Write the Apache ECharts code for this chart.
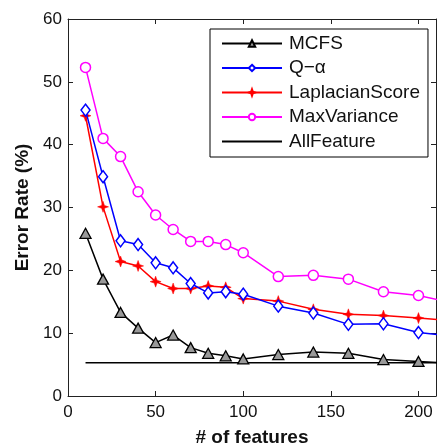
<!DOCTYPE html>
<html>
<head>
<meta charset="utf-8">
<script src="https://cdn.jsdelivr.net/npm/echarts@6/dist/echarts.min.js"></script>
<style>
  html, body { margin: 0; padding: 0; background: #fff; }
  #chart { width: 437px; height: 445px; }
</style>
</head>
<body>
<div id="chart"></div>
<script>
// Number of selected features (x) and error rate in percent (y) per method
const features = [10, 20, 30, 40, 50, 60, 70, 80, 90, 100, 120, 140, 160, 180, 200, 220];
const mcfs = [25.9, 18.6, 13.3, 10.8, 8.5, 9.7, 7.7, 6.8, 6.4, 5.9, 6.6, 7.0, 6.8, 5.8, 5.5, 5.2];
const qAlpha = [45.5, 34.9, 24.7, 24.1, 21.2, 20.4, 17.9, 16.4, 16.6, 16.2, 14.3, 13.2, 11.4, 11.5, 10.1, 9.5];
const laplacian = [44.6, 30.1, 21.4, 20.7, 18.2, 17.1, 17.1, 17.5, 17.3, 15.5, 15.1, 13.8, 13.0, 12.8, 12.4, 12.0];
const maxVariance = [52.3, 41.0, 38.1, 32.5, 28.8, 26.5, 24.6, 24.6, 24.1, 22.8, 19.0, 19.2, 18.6, 16.6, 16.0, 14.8];
const allFeatureX = [10, 220];
const allFeature = [5.3, 5.3];

const xTicks = [0, 50, 100, 150, 200];
const yTicks = [0, 10, 20, 30, 40, 50, 60];

const pairs = (xs, ys) => xs.map((x, i) => [x, ys[i]]);

const FONT = '"Liberation Sans", Arial, sans-serif';
const starPath = 'path://M0,-10 L2.6,-2.6 L10,0 L2.6,2.6 L0,10 L-2.6,2.6 L-10,0 L-2.6,-2.6 Z';

const chart = echarts.init(document.getElementById('chart'), null, { renderer: 'canvas' });

// box edges stay on their own side instead of snapping to the zero line
const axisLine = { show: true, onZero: false, lineStyle: { color: '#222', width: 1 } };
const tickIn = { show: true, inside: true, length: 5, lineStyle: { color: '#222', width: 1 } };
const noLabel = { show: false };
const noSplit = { show: false };

chart.setOption({
  animation: false,
  backgroundColor: '#fff',
  grid: { left: 68, right: 1, top: 19, bottom: 49, containLabel: false, outerBoundsMode: 'none' },
  legend: {
    orient: 'vertical',
    left: 210,
    top: 29,
    padding: [5, 8, 6, 11],
    itemWidth: 60,
    itemHeight: 8,
    itemGap: 5.5,
    borderColor: '#000',
    borderWidth: 1,
    backgroundColor: '#fff',
    textStyle: { fontFamily: FONT, fontSize: 19, color: '#111', padding: [0, 0, 0, 2] },
    data: [
      'MCFS', 'Q\u2212\u03b1', 'LaplacianScore', 'MaxVariance',
      { name: 'AllFeature', itemStyle: { color: 'rgba(0,0,0,0)', borderWidth: 0, opacity: 0 } }
    ]
  },
  xAxis: [
    {
      type: 'value', min: 0, max: 210, interval: 50, position: 'bottom',
      name: '# of features', nameLocation: 'middle', nameGap: 32,
      nameTextStyle: { fontFamily: FONT, fontSize: 19, fontWeight: 'bold', color: '#111' },
      axisLine, axisTick: tickIn,
      axisLabel: {
        fontFamily: FONT, fontSize: 17, color: '#111', margin: 8,
        formatter: v => (xTicks.includes(v) ? String(v) : '')
      },
      splitLine: noSplit
    },
    { type: 'value', min: 0, max: 210, interval: 50, position: 'top',
      axisLine, axisTick: tickIn, axisLabel: noLabel, splitLine: noSplit }
  ],
  yAxis: [
    {
      type: 'value', min: 0, max: 60, interval: 10, position: 'left',
      name: 'Error Rate (%)', nameLocation: 'middle', nameGap: 32,
      nameTextStyle: { fontFamily: FONT, fontSize: 19, fontWeight: 'bold', color: '#111' },
      axisLine, axisTick: tickIn,
      axisLabel: {
        fontFamily: FONT, fontSize: 17, color: '#111', margin: 6,
        formatter: v => (yTicks.includes(v) ? String(v) : '')
      },
      splitLine: noSplit
    },
    { type: 'value', min: 0, max: 60, interval: 10, position: 'right',
      axisLine, axisTick: tickIn, axisLabel: noLabel, splitLine: noSplit }
  ],
  series: [
    {
      name: 'MCFS', type: 'line', data: pairs(features, mcfs),
      symbol: 'triangle', symbolSize: [11, 10],
      lineStyle: { color: '#000', width: 1.5 },
      itemStyle: { color: '#999', borderColor: '#000', borderWidth: 1.3 },
      z: 5
    },
    {
      name: 'Q\u2212\u03b1', type: 'line', data: pairs(features, qAlpha),
      symbol: 'diamond', symbolSize: [9, 12],
      lineStyle: { color: '#0000ff', width: 1.5 },
      itemStyle: { color: '#fff', borderColor: '#0000ff', borderWidth: 1.5 },
      z: 4
    },
    {
      name: 'LaplacianScore', type: 'line', data: pairs(features, laplacian),
      symbol: starPath, symbolSize: 11,
      lineStyle: { color: '#ff0000', width: 1.5 },
      itemStyle: { color: '#ff0000', borderColor: '#ff0000', borderWidth: 0.5 },
      z: 3
    },
    {
      name: 'MaxVariance', type: 'line', data: pairs(features, maxVariance),
      symbol: 'circle', symbolSize: 10,
      lineStyle: { color: '#ff00ff', width: 1.5 },
      itemStyle: { color: '#fff', borderColor: '#ff00ff', borderWidth: 1.5 },
      z: 2
    },
    {
      name: 'AllFeature', type: 'line', data: pairs(allFeatureX, allFeature),
      symbol: 'none',
      lineStyle: { color: '#000', width: 1.5 },
      itemStyle: { color: '#000' },
      z: 1
    }
  ]
});
</script>
</body>
</html>
